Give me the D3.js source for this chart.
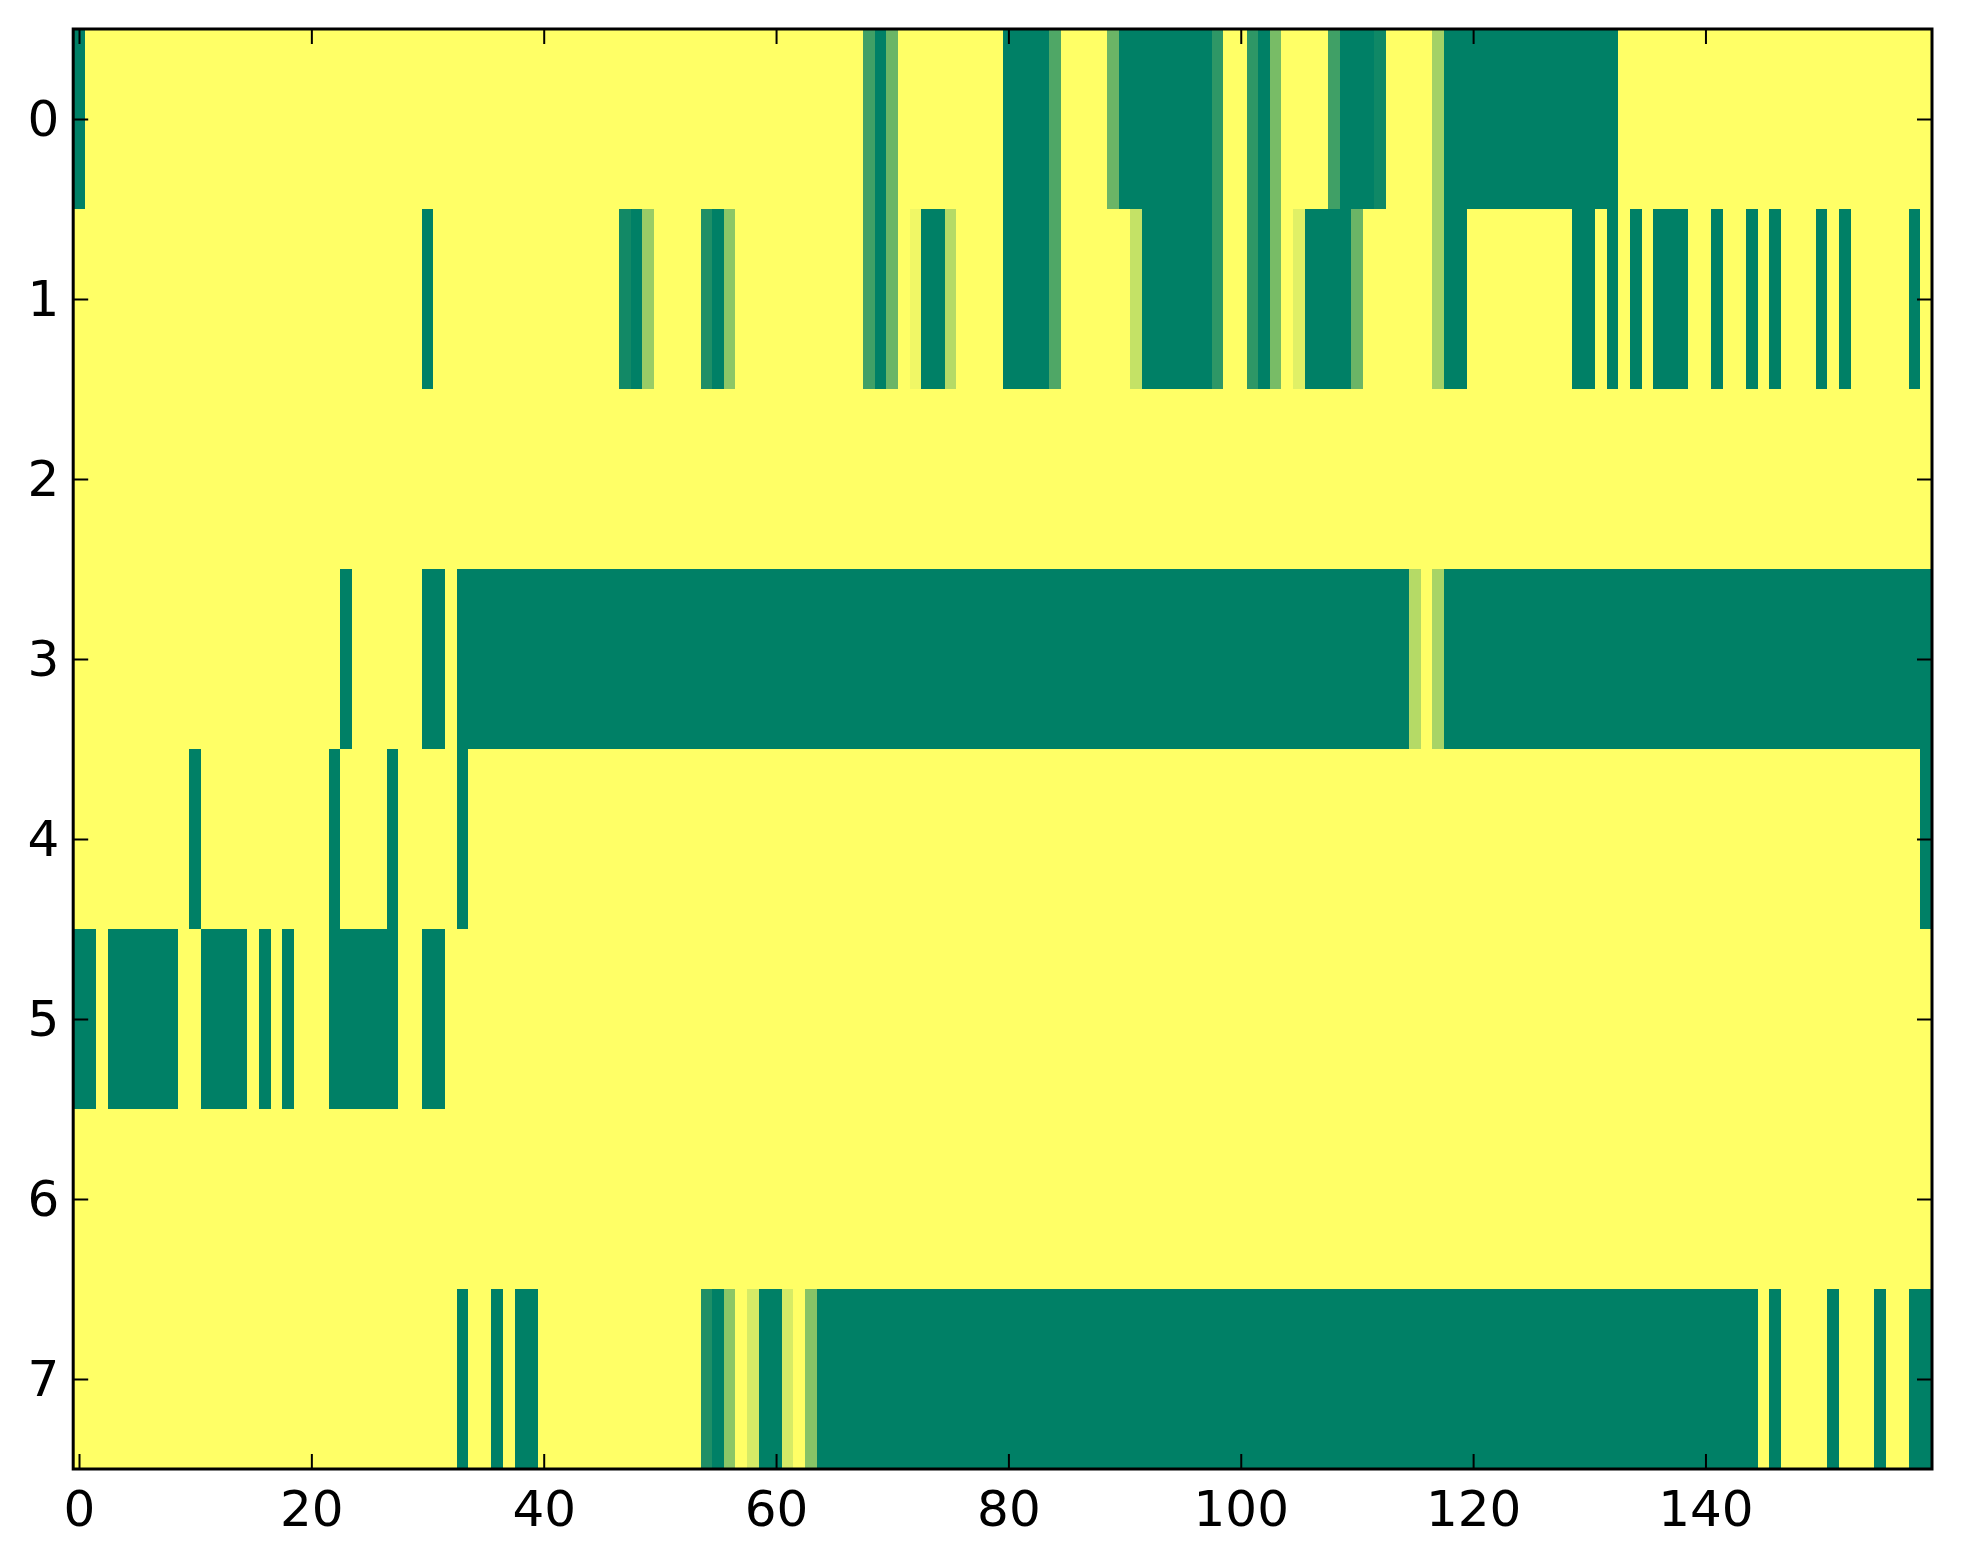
<!DOCTYPE html>
<html>
<head>
<meta charset="utf-8">
<script src="https://cdn.jsdelivr.net/npm/d3@7"></script>
<style>
  body { margin: 0; background: #fff; }
  text { font-family: "DejaVu Sans", sans-serif; }
</style>
</head>
<body>
<div id="chart"></div>
<script>
// rows of the image, one value per column (0 = yellow, 1 = dark green)
var row0 = [
  1,0,0,0,0,0,0,0,0,0, 0,0,0,0,0,0,0,0,0,0,
  0,0,0,0,0,0,0,0,0,0, 0,0,0,0,0,0,0,0,0,0,
  0,0,0,0,0,0,0,0,0,0, 0,0,0,0,0,0,0,0,0,0,
  0,0,0,0,0,0,0,0,.75,1, .58,0,0,0,0,0,0,0,0,0,
  1,1,1,1,.69,0,0,0,0,.58, 1,1,1,1,1,1,1,1,.82,0,
  0,.82,1,.53,0,0,0,0,.75,1, 1,1,.94,0,0,0,0,.36,1,1,
  1,1,1,1,1,1,1,1,1,1, 1,1,1,0,0,0,0,0,0,0,
  0,0,0,0,0,0,0,0,0,0, 0,0,0,0,0,0,0,0,0,0
];
var row1 = [
  0,0,0,0,0,0,0,0,0,0, 0,0,0,0,0,0,0,0,0,0,
  0,0,0,0,0,0,0,0,0,0, 1,0,0,0,0,0,0,0,0,0,
  0,0,0,0,0,0,0,.93,1,.40, 0,0,0,0,.88,1,.45,0,0,0,
  0,0,0,0,0,0,0,0,.75,1, .58,0,.06,1,1,.29,0,0,0,0,
  1,1,1,1,.69,0,0,0,0,0, 0,.23,1,1,1,1,1,1,.82,0,
  0,.82,1,.53,0,.12,1,1,1,1, .58,0,0,0,0,0,0,.36,1,1,
  0,0,0,0,0,0,0,0,0,1, 1,0,1,0,1,0,1,1,1,0,
  0,1,0,0,1,0,1,0,0,0, 1,0,1,0,0,0,0,0,1,0
];
var row2 = [
  0,0,0,0,0,0,0,0,0,0, 0,0,0,0,0,0,0,0,0,0,
  0,0,0,0,0,0,0,0,0,0, 0,0,0,0,0,0,0,0,0,0,
  0,0,0,0,0,0,0,0,0,0, 0,0,0,0,0,0,0,0,0,0,
  0,0,0,0,0,0,0,0,0,0, 0,0,0,0,0,0,0,0,0,0,
  0,0,0,0,0,0,0,0,0,0, 0,0,0,0,0,0,0,0,0,0,
  0,0,0,0,0,0,0,0,0,0, 0,0,0,0,0,0,0,0,0,0,
  0,0,0,0,0,0,0,0,0,0, 0,0,0,0,0,0,0,0,0,0,
  0,0,0,0,0,0,0,0,0,0, 0,0,0,0,0,0,0,0,0,0
];
var row3 = [
  0,0,0,0,0,0,0,0,0,0, 0,0,0,0,0,0,0,0,0,0,
  0,0,0,1,0,0,0,0,0,0, 1,1,0,1,1,1,1,1,1,1,
  1,1,1,1,1,1,1,1,1,1, 1,1,1,1,1,1,1,1,1,1,
  1,1,1,1,1,1,1,1,1,1, 1,1,1,1,1,1,1,1,1,1,
  1,1,1,1,1,1,1,1,1,1, 1,1,1,1,1,1,1,1,1,1,
  1,1,1,1,1,1,1,1,1,1, 1,1,1,1,1,.29,0,.34,1,1,
  1,1,1,1,1,1,1,1,1,1, 1,1,1,1,1,1,1,1,1,1,
  1,1,1,1,1,1,1,1,1,1, 1,1,1,1,1,1,1,1,1,1
];
var row4 = [
  0,0,0,0,0,0,0,0,0,0, 1,0,0,0,0,0,0,0,0,0,
  0,0,1,0,0,0,0,1,0,0, 0,0,0,1,0,0,0,0,0,0,
  0,0,0,0,0,0,0,0,0,0, 0,0,0,0,0,0,0,0,0,0,
  0,0,0,0,0,0,0,0,0,0, 0,0,0,0,0,0,0,0,0,0,
  0,0,0,0,0,0,0,0,0,0, 0,0,0,0,0,0,0,0,0,0,
  0,0,0,0,0,0,0,0,0,0, 0,0,0,0,0,0,0,0,0,0,
  0,0,0,0,0,0,0,0,0,0, 0,0,0,0,0,0,0,0,0,0,
  0,0,0,0,0,0,0,0,0,0, 0,0,0,0,0,0,0,0,0,1
];
var row5 = [
  1,1,0,1,1,1,1,1,1,0, 0,1,1,1,1,0,1,0,1,0,
  0,0,1,1,1,1,1,1,0,0, 1,1,0,0,0,0,0,0,0,0,
  0,0,0,0,0,0,0,0,0,0, 0,0,0,0,0,0,0,0,0,0,
  0,0,0,0,0,0,0,0,0,0, 0,0,0,0,0,0,0,0,0,0,
  0,0,0,0,0,0,0,0,0,0, 0,0,0,0,0,0,0,0,0,0,
  0,0,0,0,0,0,0,0,0,0, 0,0,0,0,0,0,0,0,0,0,
  0,0,0,0,0,0,0,0,0,0, 0,0,0,0,0,0,0,0,0,0,
  0,0,0,0,0,0,0,0,0,0, 0,0,0,0,0,0,0,0,0,0
];
var row6 = [
  0,0,0,0,0,0,0,0,0,0, 0,0,0,0,0,0,0,0,0,0,
  0,0,0,0,0,0,0,0,0,0, 0,0,0,0,0,0,0,0,0,0,
  0,0,0,0,0,0,0,0,0,0, 0,0,0,0,0,0,0,0,0,0,
  0,0,0,0,0,0,0,0,0,0, 0,0,0,0,0,0,0,0,0,0,
  0,0,0,0,0,0,0,0,0,0, 0,0,0,0,0,0,0,0,0,0,
  0,0,0,0,0,0,0,0,0,0, 0,0,0,0,0,0,0,0,0,0,
  0,0,0,0,0,0,0,0,0,0, 0,0,0,0,0,0,0,0,0,0,
  0,0,0,0,0,0,0,0,0,0, 0,0,0,0,0,0,0,0,0,0
];
var row7 = [
  0,0,0,0,0,0,0,0,0,0, 0,0,0,0,0,0,0,0,0,0,
  0,0,0,0,0,0,0,0,0,0, 0,0,0,1,0,0,1,0,1,1,
  0,0,0,0,0,0,0,0,0,0, 0,0,0,0,.88,1,.45,0,.16,1,
  1,.16,0,.47,1,1,1,1,1,1, 1,1,1,1,1,1,1,1,1,1,
  1,1,1,1,1,1,1,1,1,1, 1,1,1,1,1,1,1,1,1,1,
  1,1,1,1,1,1,1,1,1,1, 1,1,1,1,1,1,1,1,1,1,
  1,1,1,1,1,1,1,1,1,1, 1,1,1,1,1,1,1,1,1,1,
  1,1,1,1,1,0,1,0,0,0, 0,1,0,0,0,1,0,0,1,1
];
var rows = [row0, row1, row2, row3, row4, row5, row6, row7];

var xTicks = [0, 20, 40, 60, 80, 100, 120, 140];
var yTicks = [0, 1, 2, 3, 4, 5, 6, 7];

// set the dimensions and margins of the graph
var W = 1963, H = 1564;
var margin = {top: 29, right: 31, bottom: 95, left: 73.2};
var width = W - margin.left - margin.right,
    height = H - margin.top - margin.bottom;

var svg = d3.select("#chart")
  .append("svg")
  .attr("width", W)
  .attr("height", H)
  .style("background", "#fff");

var g = svg.append("g")
  .attr("transform", "translate(" + margin.left + "," + margin.top + ")");

var nCols = row0.length;

var x = d3.scaleLinear().domain([-0.5, nCols - 0.5]).range([0, width]);
var y = d3.scaleLinear().domain([-0.5, rows.length - 0.5]).range([0, height]);

// summer_r colormap: 0 -> yellow, 1 -> green
var color = d3.scaleLinear().domain([0, 1]).range(["#ffff66", "#008066"]);

// flatten to cells
var cells = [];
rows.forEach(function(r, ri) {
  r.forEach(function(v, ci) {
    cells.push({row: ri, col: ci, value: v});
  });
});

g.append("g")
  .selectAll("rect")
  .data(cells)
  .enter()
  .append("rect")
    .attr("x", function(d) { return x(d.col - 0.5); })
    .attr("y", function(d) { return y(d.row - 0.5); })
    .attr("width", function(d) { return x(d.col + 0.5) - x(d.col - 0.5) + 0.6; })
    .attr("height", function(d) { return y(d.row + 0.5) - y(d.row - 0.5) + 0.6; })
    .attr("fill", function(d) { return color(d.value); })
    .attr("shape-rendering", "crispEdges");

// axes, ticks pointing inwards on all four sides
function styleAxis(sel) {
  sel.select(".domain").remove();
  sel.selectAll(".tick line").attr("stroke", "#000").attr("stroke-width", 2);
  sel.selectAll(".tick text").attr("fill", "#000").style("font-size", "50px")
    .style("font-family", "'DejaVu Sans', sans-serif");
}

g.append("g")
  .attr("transform", "translate(0," + height + ")")
  .call(d3.axisBottom(x).tickValues(xTicks).tickFormat(d3.format("d"))
    .tickSizeInner(-15).tickSizeOuter(0).tickPadding(21))
  .call(styleAxis);

g.append("g")
  .call(d3.axisTop(x).tickValues(xTicks).tickFormat("")
    .tickSizeInner(-15).tickSizeOuter(0))
  .call(styleAxis);

g.append("g")
  .call(d3.axisLeft(y).tickValues(yTicks).tickFormat(d3.format("d"))
    .tickSizeInner(-15).tickSizeOuter(0).tickPadding(14))
  .call(styleAxis);

g.append("g")
  .attr("transform", "translate(" + width + ",0)")
  .call(d3.axisRight(y).tickValues(yTicks).tickFormat("")
    .tickSizeInner(-15).tickSizeOuter(0))
  .call(styleAxis);

// frame
g.append("rect")
  .attr("x", 0)
  .attr("y", 0)
  .attr("width", width)
  .attr("height", height)
  .attr("fill", "none")
  .attr("stroke", "#000")
  .attr("stroke-width", 3);
</script>
</body>
</html>
